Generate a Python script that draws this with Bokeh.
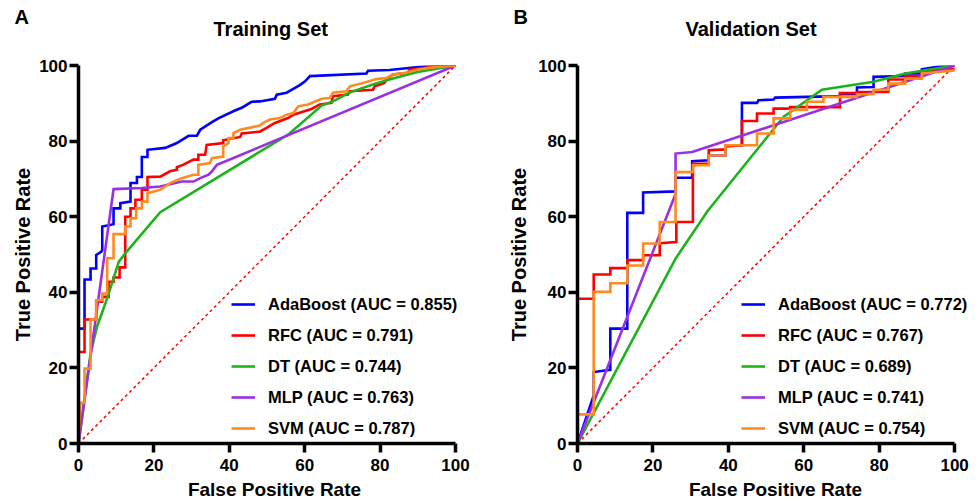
from bokeh.plotting import figure
from bokeh.layouts import row
from bokeh.models import Range1d, Legend, LegendItem, Title, FixedTicker
from bokeh.embed import file_html
from bokeh.resources import INLINE

FONT = "Liberation Sans"

model_names = ["AdaBoost", "RFC", "DT", "MLP", "SVM"]
colors = ["#0000FF", "#FF0000", "#1DB31D", "#9B30E3", "#FF8A1F"]
train_auc = ["0.855", "0.791", "0.744", "0.763", "0.787"]
valid_auc = ["0.772", "0.767", "0.689", "0.741", "0.754"]
ticks = [0, 20, 40, 60, 80, 100]

# Training set ROC vertices (FPR %, TPR %)
ada_train = [(0, 0), (0, 30.4), (1.6, 30.4), (1.6, 43.4), (3.2, 43.4), (3.2, 46.3), (4.7, 46.3), (4.7, 49.9),
             (6.0, 50.7), (6.3, 51.2), (6.3, 57.4), (9.3, 58.0), (9.3, 62.2), (11.1, 62.2), (11.1, 63.6),
             (13.8, 64.0), (13.8, 68.9), (15.5, 68.9), (15.5, 70.5), (16.8, 70.5), (16.8, 75.8), (18.3, 75.8),
             (18.3, 77.7), (23.0, 78.2), (26.1, 79.5), (29.2, 81.4), (31.4, 81.4), (32.3, 83.0), (35.4, 85.0),
             (37.1, 86.0), (41.5, 88.1), (43.3, 88.8), (45.9, 90.4), (48.1, 90.5), (52.1, 91.2), (52.6, 92.3),
             (55.2, 92.8), (57.0, 93.8), (58.7, 94.8), (60.1, 95.8), (61.4, 97.2), (76.4, 97.9), (76.8, 98.6),
             (82.5, 98.8), (92.2, 99.8), (100, 100)]
rfc_train = [(0, 0), (0, 24.2), (1.6, 24.2), (1.6, 32.8), (4.7, 32.8), (4.7, 37.5), (6.3, 37.5), (6.3, 38.8),
             (8.0, 38.8), (8.0, 42.8), (9.3, 42.8), (9.3, 43.9), (10.9, 43.9), (10.9, 46.6), (12.4, 46.6),
             (12.4, 60.0), (13.8, 60.0), (13.8, 62.2), (15.1, 62.2), (15.1, 64.5), (16.8, 64.5), (16.8, 67.1),
             (18.3, 67.1), (18.3, 70.5), (21.7, 70.6), (24.3, 72.0), (26.1, 72.4), (26.1, 73.1), (27.7, 73.7),
             (30.5, 75.1), (31.8, 75.1), (31.8, 76.4), (33.6, 76.4), (34.0, 79.0), (38.4, 79.5), (38.4, 80.2),
             (42.9, 81.1), (43.3, 82.0), (48.1, 82.5), (49.9, 83.5), (52.1, 84.8), (55.6, 86.1), (57.0, 87.0),
             (61.8, 88.5), (64.0, 89.7), (67.1, 90.1), (67.5, 91.9), (71.5, 92.3), (72.0, 93.2), (78.1, 93.6),
             (78.6, 94.5), (81.2, 95.4), (81.7, 96.4), (83.4, 97.6), (87.4, 98.1), (87.8, 98.9), (93.6, 99.6),
             (100, 100)]
dt_train = [(0, 0), (3.2, 23.8), (4.9, 30.9), (7.6, 38.4), (10.7, 48.1), (12.4, 50.3), (21.7, 61.2),
            (55.6, 81.7), (64.5, 89.4), (67.5, 90.5), (72.0, 92.9), (78.1, 95.0), (82.5, 96.3), (89.6, 98.2),
            (100, 100)]
mlp_train = [(0, 0), (9.3, 67.3), (16.8, 67.6), (21.7, 68.0), (25.7, 68.9), (27.4, 69.3), (30.5, 69.3),
             (32.3, 70.2), (34.5, 71.1), (35.4, 72.0), (36.7, 73.7), (38.4, 74.4), (100, 100)]
svm_train = [(0, 0), (0.5, 10.8), (1.6, 10.8), (1.6, 19.8), (3.2, 19.8), (3.2, 32.8), (4.7, 32.8), (4.7, 37.9),
             (6.3, 37.9), (6.3, 39.7), (7.6, 39.7), (7.6, 49.0), (9.3, 49.0), (9.3, 55.4), (12.4, 55.4),
             (12.4, 57.4), (13.8, 57.4), (13.8, 59.6), (15.3, 59.6), (15.3, 62.2), (16.8, 62.2), (16.8, 64.0),
             (18.3, 64.0), (18.3, 66.2), (21.7, 67.1), (24.3, 68.9), (27.4, 70.2), (30.5, 71.1), (31.8, 71.1),
             (31.8, 73.7), (34.9, 74.2), (35.4, 75.5), (38.4, 75.9), (38.4, 78.6), (39.8, 79.5), (39.8, 80.8),
             (41.1, 80.8), (41.1, 82.1), (42.9, 83.0), (48.1, 84.1), (49.0, 84.8), (50.8, 85.7), (53.4, 86.1),
             (55.2, 87.0), (57.0, 87.4), (58.3, 89.2), (60.9, 89.7), (64.5, 91.2), (66.7, 91.4), (67.5, 92.8),
             (71.1, 93.2), (72.0, 94.5), (75.5, 95.4), (79.0, 96.4), (81.7, 96.7), (83.4, 97.6), (86.9, 98.1),
             (89.6, 98.9), (93.1, 99.4), (100, 100)]

# Validation set ROC vertices (FPR %, TPR %)
ada_valid = [(0, 0), (4.3, 12.7), (4.3, 18.9), (8.7, 19.5), (8.7, 30.4), (13.2, 30.4), (13.2, 61.0),
             (17.4, 61.0), (17.4, 66.4), (26.0, 66.7), (26.0, 70.3), (30.4, 70.3), (30.4, 74.7), (34.8, 74.9),
             (34.8, 76.2), (39.2, 76.2), (39.2, 78.9), (43.6, 78.9), (43.6, 90.1), (47.6, 90.1), (48.0, 90.8),
             (52.0, 91.0), (52.4, 91.5), (69.6, 91.9), (69.6, 92.4), (74.1, 92.4), (74.1, 94.2), (78.5, 94.3),
             (78.5, 97.0), (86.9, 97.2), (86.9, 97.9), (91.3, 97.9), (91.3, 99.0), (95.7, 99.7), (100, 100)]
rfc_valid = [(0, 0), (0, 38.3), (4.3, 38.3), (4.3, 44.7), (8.7, 44.7), (8.7, 46.4), (13.2, 46.4), (13.2, 48.5),
             (17.4, 48.5), (17.4, 49.8), (21.8, 49.8), (21.8, 53.0), (26.2, 53.3), (26.2, 58.6), (30.6, 58.6),
             (30.6, 74.0), (34.8, 74.0), (34.8, 77.6), (39.2, 77.8), (39.2, 78.6), (43.6, 78.9), (43.6, 85.3),
             (47.6, 85.3), (47.6, 87.3), (52.0, 87.3), (52.0, 88.6), (56.4, 88.6), (56.4, 89.0), (69.6, 89.0),
             (69.6, 92.7), (74.1, 92.7), (74.1, 93.0), (82.4, 93.0), (82.4, 96.3), (86.9, 96.3), (86.9, 97.2),
             (91.3, 97.2), (91.3, 98.2), (95.7, 98.8), (100, 99.1)]
dt_valid = [(0, 0), (26.0, 48.9), (34.5, 61.5), (54.6, 86.4), (64.8, 93.6), (78.5, 95.7), (86.9, 97.9),
            (100, 100)]
mlp_valid = [(0, 0), (26.0, 66.0), (26.0, 76.7), (30.4, 77.1), (100, 100)]
svm_valid = [(0, 0), (0, 7.7), (4.3, 7.7), (4.3, 40.1), (8.7, 40.1), (8.7, 42.4), (13.2, 42.4), (13.2, 47.1),
             (17.4, 47.1), (17.4, 52.9), (21.8, 52.9), (21.8, 58.6), (26.0, 58.6), (26.0, 71.8), (30.6, 71.8),
             (30.6, 73.6), (34.8, 73.6), (34.8, 76.2), (39.2, 76.2), (39.2, 78.9), (47.6, 78.9), (47.6, 82.0),
             (52.0, 82.0), (52.0, 86.0), (56.4, 86.0), (56.4, 88.2), (60.8, 88.3), (60.8, 90.4), (65.2, 90.4),
             (65.2, 91.7), (74.1, 91.7), (74.1, 92.4), (78.5, 92.4), (78.5, 93.6), (82.4, 93.6), (82.4, 95.2),
             (86.9, 95.2), (86.9, 96.5), (91.3, 96.5), (91.3, 97.9), (95.7, 98.3), (100, 98.7)]

train_curves = [ada_train, rfc_train, dt_train, mlp_train, svm_train]
valid_curves = [ada_valid, rfc_valid, dt_valid, mlp_valid, svm_valid]
chance_line = [(0, 0), (100, 100)]

HEIGHT = 502
TOP, BOTTOM = 65, 59


def make_panel(title, letter, curves, aucs, width, left, right, x_end, title_offset, letter_offset, legend_x,
               ylab_standoff):
    p = figure(width=width, height=HEIGHT, x_range=Range1d(0, x_end), y_range=Range1d(0, 100),
               output_backend="svg", toolbar_location=None,
               min_border_left=left, min_border_right=right,
               min_border_top=TOP, min_border_bottom=BOTTOM)
    p.outline_line_color = None
    p.xgrid.grid_line_color = None
    p.ygrid.grid_line_color = None
    p.background_fill_color = "white"
    p.border_fill_color = "white"

    for ax, lab, st, lst in ((p.xaxis[0], "False Positive Rate", 5, 6),
                             (p.yaxis[0], "True Positive Rate", ylab_standoff, 2)):
        ax.ticker = FixedTicker(ticks=ticks)
        ax.bounds = (0, 100)
        ax.axis_label = lab
        ax.axis_line_width = 3.5
        ax.axis_line_color = "black"
        ax.major_tick_line_width = 3.5
        ax.major_tick_line_color = "black"
        ax.major_tick_out = 9
        ax.major_tick_in = 0
        ax.minor_tick_line_color = None
        ax.major_label_text_font = FONT
        ax.major_label_text_font_style = "bold"
        ax.major_label_text_font_size = "17px"
        ax.major_label_text_color = "black"
        ax.major_label_standoff = lst
        ax.axis_label_text_font = FONT
        ax.axis_label_text_font_style = "bold"
        ax.axis_label_text_color = "black"
        ax.axis_label_standoff = st
    p.xaxis.axis_label_text_font_size = "19px"
    p.yaxis.axis_label_text_font_size = "20px"

    cx = [pt[0] for pt in chance_line]
    cy = [pt[1] for pt in chance_line]
    p.line(cx, cy, line_color="#FF0000", line_width=1.5, line_dash="3 3")

    items = []
    for name, col, auc, pts in zip(model_names, colors, aucs, curves):
        xs = [pt[0] for pt in pts]
        ys = [pt[1] for pt in pts]
        r = p.line(xs, ys, line_color=col, line_width=2.6, line_join="miter")
        items.append(LegendItem(label=f"{name} (AUC = {auc})", renderers=[r]))

    leg = Legend(items=items, location=(legend_x, 5))
    leg.label_text_font = FONT
    leg.label_text_font_style = "bold"
    leg.label_text_font_size = "16.5px"
    leg.label_text_color = "black"
    leg.glyph_width = 24
    leg.glyph_height = 20
    leg.label_height = 20
    leg.label_standoff = 13
    leg.spacing = 11
    leg.padding = 0
    leg.margin = 0
    leg.border_line_alpha = 0
    leg.background_fill_alpha = 0
    p.add_layout(leg)

    # spacer row nearest the frame, then the panel title, then the panel letter (outermost)
    p.add_layout(Title(text=" ", standoff=1.5, text_font=FONT, text_font_size="20px"), "above")
    p.add_layout(Title(text=title, align="left", offset=title_offset, standoff=0, text_font=FONT,
                       text_font_style="bold", text_font_size="20px", text_color="black"), "above")
    p.title.text = letter
    p.title.align = "left"
    p.title.offset = letter_offset
    p.title.standoff = -24
    p.title.text_font = FONT
    p.title.text_font_style = "bold"
    p.title.text_font_size = "20px"
    p.title.text_color = "black"
    return p


p1 = make_panel("Training Set", "A", train_curves, train_auc, 505, 78, 35, 104, 135, -64, 153, 2)
p2 = make_panel("Validation Set", "B", valid_curves, valid_auc, 474, 72, 6, 105, 108, -64, 164, 5)

layout = row(p1, p2)
open("out.html", "w").write(file_html(layout, INLINE))
